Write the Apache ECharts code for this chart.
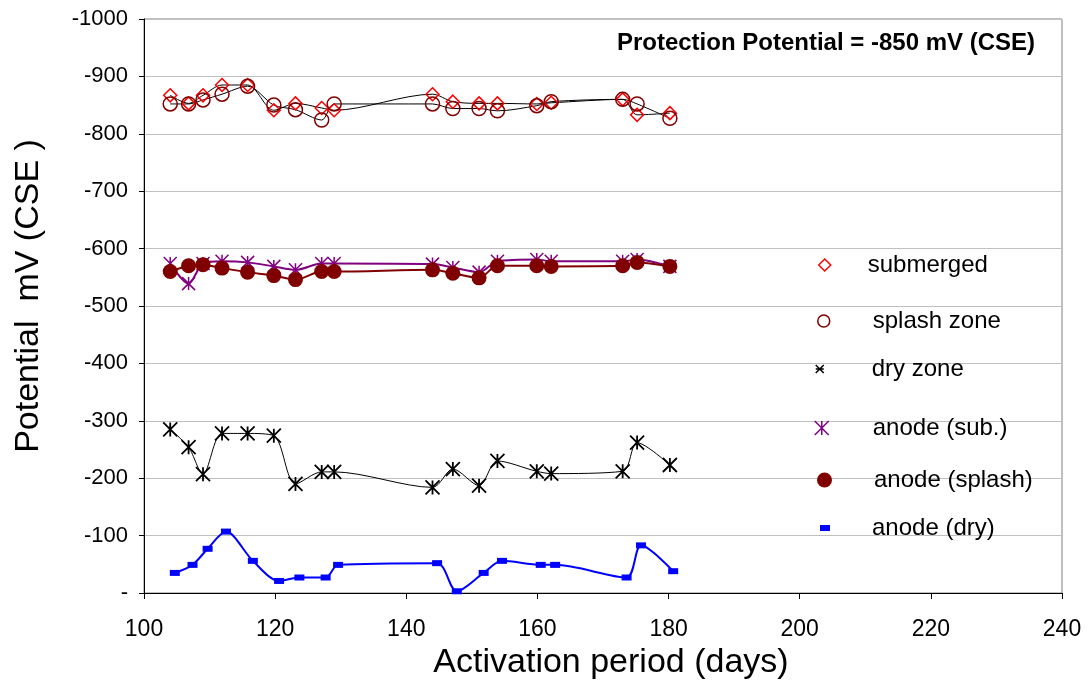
<!DOCTYPE html>
<html><head><meta charset="utf-8">
<script src="https://cdn.jsdelivr.net/npm/echarts@6/dist/echarts.min.js"></script>
<style>html,body{margin:0;padding:0;background:#fff}#c{width:1089px;height:691px}</style>
</head><body><div id="c"></div>
<script>
// ---- data (activation period in days, potential in mV CSE) ----
const days = [104, 106.8, 109, 111.9, 115.8, 119.8, 123.1, 127.1, 129, 144, 147.1, 151.1, 153.9, 159.9, 162.1, 173, 175.2, 180.2];
const daysAnodeDry = [104.7, 107.4, 109.7, 112.5, 116.6, 120.6, 123.7, 127.7, 129.6, 144.7, 147.7, 151.8, 154.6, 160.5, 162.7, 173.6, 175.8, 180.7];
const submerged = [-867, -853, -867, -885, -885, -841, -853, -845, -841, -869, -856, -853, -853, -852, -854, -860, -833, -836];
const splashZone = [-852, -852, -859, -869, -883, -850, -842, -824, -852, -852, -844, -844, -840, -849, -856, -860, -852, -827];
const dryZone = [-285, -254, -207, -278, -278, -274, -190, -211, -211, -184, -216, -187, -230, -212, -208, -212, -262, -223];
const anodeSub = [-574, -539, -574, -578, -576, -569, -563, -574, -574, -573, -567, -559, -578, -581, -578, -578, -581, -569];
const anodeSplash = [-560, -570, -572, -566, -559, -553, -546, -560, -560, -563, -557, -549, -570, -570, -569, -570, -576, -569];
const anodeDry = [-35, -49, -77, -107, -56, -21, -27, -27, -49, -52, -3, -35, -56, -49, -49, -27, -83, -38];
const seriesNames = ['submerged', 'splash zone', 'dry zone', 'anode (sub.)', 'anode (splash)', 'anode (dry)'];
const titleText = 'Protection Potential = -850 mV (CSE)';
const xName = 'Activation period (days)';
const yName = 'Potential  mV (CSE )';

const FONT = 'Liberation Sans, Arial, sans-serif';
const STAR = 'path://M0,0L10,10M10,0L0,10M5,0L5,10';
const STAR_LEG = 'path://M0,0L10,10M10,0L0,10M0,5L10,5';

function pts(xs, ys) { return xs.map((x, i) => [x, ys[i]]); }

const chart = echarts.init(document.getElementById('c'), null, {renderer: 'canvas'});

function legendAt(name, top, left, iconType, w, h, style, textPad) {
  return {
    show: true, orient: 'horizontal', left: left, top: top, padding: 0,
    itemWidth: w, itemHeight: h, selectedMode: false,
    data: [{name: name, icon: iconType, itemStyle: style}],
    textStyle: {fontFamily: FONT, fontSize: 24, color: '#000', padding: textPad}
  };
}

const option = {
  animation: false,
  backgroundColor: '#fff',
  title: {
    text: titleText, right: 54, top: 31, padding: 0,
    textStyle: {fontFamily: FONT, fontSize: 24, fontWeight: 'bold', color: '#000'}
  },
  grid: {left: 144, right: 27, top: 19, bottom: 98, show: true, borderColor: '#808080', borderWidth: 1, containLabel: false},
  legend: [
    legendAt(seriesNames[0], 253, 818, 'diamond', 12, 12, {color: 'rgba(0,0,0,0)', borderColor: '#ff0000', borderWidth: 1.5}, [14, 0, 0, 32]),
    legendAt(seriesNames[1], 309, 817, 'circle', 12, 12, {color: 'rgba(0,0,0,0)', borderColor: '#800000', borderWidth: 1.5}, [8, 0, 0, 38]),
    legendAt(seriesNames[2], 357, 815, STAR_LEG, 12, 8, {color: 'rgba(0,0,0,0)', borderColor: '#000', borderWidth: 1.5}, [0, 0, 4, 41]),
    legendAt(seriesNames[3], 416, 814, STAR, 14, 14, {color: 'rgba(0,0,0,0)', borderColor: '#800080', borderWidth: 1.5}, [8, 0, 0, 39]),
    legendAt(seriesNames[4], 468, 817, 'circle', 15, 15, {color: '#800000', borderColor: '#800000', borderWidth: 0}, [8, 0, 0, 37]),
    legendAt(seriesNames[5], 516, 820, 'rect', 10, 6, {color: '#0000ff', borderColor: '#0000ff', borderWidth: 0}, [0, 0, 2, 37])
  ],
  xAxis: {
    type: 'value', min: 100, max: 240, interval: 20,
    name: xName, nameLocation: 'middle', nameGap: 52,
    nameTextStyle: {fontFamily: FONT, fontSize: 34, color: '#000', padding: [0, 0, 0, 16]},
    axisLine: {show: true, onZero: false, lineStyle: {color: '#000', width: 1}},
    axisTick: {show: true, inside: false, length: 6, lineStyle: {color: '#000'}},
    axisLabel: {fontFamily: FONT, fontSize: 23, color: '#000', margin: 25},
    splitLine: {show: false}
  },
  yAxis: {
    type: 'value', min: -1000, max: 0, interval: 100, inverse: true,
    name: yName, nameLocation: 'middle', nameGap: 98, nameRotate: 90,
    nameTextStyle: {fontFamily: FONT, fontSize: 34, color: '#000', padding: [0, 0, 0, 20]},
    axisLine: {show: true, onZero: false, lineStyle: {color: '#000', width: 1}},
    axisTick: {show: true, inside: false, length: 5, lineStyle: {color: '#000'}},
    axisLabel: {fontFamily: FONT, fontSize: 22, color: '#000', margin: 16,
      formatter: v => (v === 0 ? '-' : String(v))},
    splitLine: {show: true, lineStyle: {color: '#c0c0c0', width: 1}}
  },
  series: [
    {name: seriesNames[0], type: 'line', smooth: 0.3, data: pts(days, submerged),
      symbol: 'diamond', symbolSize: 13,
      itemStyle: {color: 'rgba(0,0,0,0)', borderColor: '#ff0000', borderWidth: 1.5},
      lineStyle: {color: '#000', width: 1}, z: 3},
    {name: seriesNames[1], type: 'line', smooth: 0.3, data: pts(days, splashZone),
      symbol: 'circle', symbolSize: 14,
      itemStyle: {color: 'rgba(0,0,0,0)', borderColor: '#800000', borderWidth: 1.5},
      lineStyle: {color: '#000', width: 1}, z: 3},
    {name: seriesNames[2], type: 'line', smooth: 0.3, data: pts(days, dryZone),
      symbol: STAR, symbolSize: 14,
      itemStyle: {color: 'rgba(0,0,0,0)', borderColor: '#000', borderWidth: 1.8},
      lineStyle: {color: '#000', width: 1}, z: 3},
    {name: seriesNames[3], type: 'line', smooth: 0.3, data: pts(days, anodeSub),
      symbol: STAR, symbolSize: 13,
      itemStyle: {color: 'rgba(0,0,0,0)', borderColor: '#800080', borderWidth: 1.5},
      lineStyle: {color: '#800080', width: 2}, z: 3},
    {name: seriesNames[4], type: 'line', smooth: 0.3, data: pts(days, anodeSplash),
      symbol: 'circle', symbolSize: 15,
      itemStyle: {color: '#800000', borderColor: '#800000', borderWidth: 0},
      lineStyle: {color: '#800000', width: 2}, z: 4},
    {name: seriesNames[5], type: 'line', smooth: 0.3, data: pts(daysAnodeDry, anodeDry),
      symbol: 'rect', symbolSize: [10, 6],
      itemStyle: {color: '#0000ff', borderColor: '#0000ff', borderWidth: 0},
      lineStyle: {color: '#0000ff', width: 2}, z: 3}
  ]
};
chart.setOption(option);
</script>
</body></html>
